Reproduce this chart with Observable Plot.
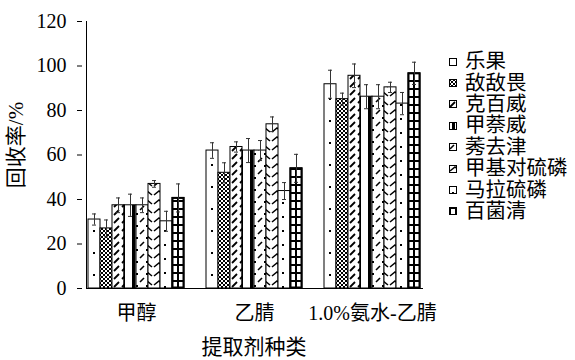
<!DOCTYPE html>
<html>
<head>
<meta charset="utf-8">
<script src="https://cdn.jsdelivr.net/npm/d3@7"></script>
<script src="https://cdn.jsdelivr.net/npm/@observablehq/plot@0.6"></script>
<style>
  html, body { margin: 0; padding: 0; background: #fff; }
  #wrap { position: relative; width: 575px; height: 360px; font-family: 'Liberation Serif', 'Noto Sans CJK SC', serif; color: #000; }
  #ytitle { position: absolute; left: 16px; top: 145px; transform: translate(-50%, -50%) rotate(-90deg); font-size: 21px; white-space: nowrap; line-height: 1; }
  #xtitle { position: absolute; left: 254px; top: 347px; transform: translate(-50%, -50%); font-size: 21px; white-space: nowrap; line-height: 1; }
  #legend { position: absolute; left: 449px; top: 51px; font-size: 20.5px; }
  #legend .item { display: flex; align-items: center; height: 21.4px; line-height: 21px; white-space: nowrap; overflow: visible; }
  #legend .item span { display: block; line-height: 21px; height: 21px; }
  #legend svg { margin-right: 8px; flex: none; }
</style>
</head>
<body>
<svg width="0" height="0" style="position:absolute">
  <defs>
    <pattern id="pat0" patternUnits="userSpaceOnUse" width="10" height="22">
      <rect width="10" height="22" fill="#fff"/><rect x="4" y="10" width="2" height="2" fill="#000"/>
    </pattern>
    <pattern id="pat1" patternUnits="userSpaceOnUse" width="4" height="4">
      <rect width="4" height="4" fill="#fff"/><rect x="0" y="0" width="2" height="2" fill="#000"/><rect x="2" y="2" width="2" height="2" fill="#000"/>
    </pattern>
    <pattern id="pat2" patternUnits="userSpaceOnUse" width="8" height="8">
      <rect width="8" height="8" fill="#fff"/><path d="M1,7 L6,2" stroke="#000" stroke-width="1.8"/>
    </pattern>
    <pattern id="pat3" patternUnits="userSpaceOnUse" width="10" height="10">
      <rect width="10" height="10" fill="#fff"/><rect x="3" y="0" width="3" height="10" fill="#000"/>
    </pattern>
    <pattern id="pat4" patternUnits="userSpaceOnUse" width="10" height="12">
      <rect width="10" height="12" fill="#fff"/><path d="M1,6 L5,2" stroke="#000" stroke-width="1.6"/><rect x="7" y="9" width="2" height="2" fill="#000"/>
    </pattern>
    <pattern id="pat5" patternUnits="userSpaceOnUse" width="12" height="9">
      <rect width="12" height="9" fill="#fff"/><path d="M1,6 L6,2 L11,6" stroke="#000" stroke-width="1.6" fill="none"/>
    </pattern>
    <pattern id="pat6" patternUnits="userSpaceOnUse" width="8" height="14">
      <rect width="8" height="14" fill="#fff"/><rect x="3" y="6" width="2" height="2" fill="#000"/>
    </pattern>
    <pattern id="pat7" patternUnits="userSpaceOnUse" width="6" height="8">
      <rect width="6" height="8" fill="#fff"/><rect x="0" y="0" width="2" height="8" fill="#000"/><rect x="0" y="0" width="6" height="2" fill="#000"/>
    </pattern>
  </defs>
</svg>
<div id="wrap">
  <div id="chart"></div>
  <div id="ytitle">回收率/%</div>
  <div id="xtitle">提取剂种类</div>
  <div id="legend"></div>
</div>
<script>
// ---- data ----
const groups = ["甲醇", "乙腈", "1.0%氨水-乙腈"];
const pesticides = ["乐果", "敌敌畏", "克百威", "甲萘威", "莠去津", "甲基对硫磷", "马拉硫磷", "百菌清"];
const methanol       = [31.0, 27.0, 37.4, 37.4, 37.4, 47.0, 30.2, 40.7];
const methanolErr    = [2.5, 3.8, 3.3, 5.0, 3.3, 1.5, 4.5, 6.3];
const acetonitrile    = [62.0, 52.0, 63.6, 62.0, 62.0, 73.8, 43.8, 54.0];
const acetonitrileErr = [3.5, 4.5, 2.3, 5.4, 4.5, 3.3, 3.8, 6.3];
const ammonia    = [91.8, 85.1, 95.6, 86.2, 86.2, 90.4, 83.1, 96.7];
const ammoniaErr = [6.3, 2.7, 5.3, 5.4, 5.4, 2.3, 5.0, 5.0];
const yTicks = [0, 20, 40, 60, 80, 100, 120];
const patterns = ["url(#pat0)", "url(#pat1)", "url(#pat2)", "url(#pat3)", "url(#pat4)", "url(#pat5)", "url(#pat6)", "url(#pat7)"];

const values = [methanol, acetonitrile, ammonia];
const errs = [methanolErr, acetonitrileErr, ammoniaErr];
const data = groups.flatMap((g, gi) => pesticides.map((p, pi) => ({
  group: g, pest: p, value: values[gi][pi], err: errs[gi][pi]
})));

const lo = d => d.value - d.err;
const hi = d => d.value + d.err;
const errColor = "#333";

const chart = Plot.plot({
  width: 575,
  height: 360,
  marginLeft: 77,
  marginRight: 144,
  marginTop: 21,
  marginBottom: 72,
  style: {fontFamily: "'Liberation Serif', 'Noto Sans CJK SC', serif", fontSize: "20px", color: "#000", background: "transparent"},
  fx: {domain: groups, paddingInner: 0.153, paddingOuter: 0.076, label: null},
  x: {domain: pesticides, padding: 0, axis: null},
  y: {domain: [0, 120], label: null},
  color: {domain: pesticides, range: patterns},
  marks: [
    Plot.barY(data, {fx: "group", x: "pest", y: "value", fill: "pest", stroke: "#000", strokeWidth: 1}),
    Plot.barY(data.filter(d => d.pest === "百菌清"), {fx: "group", x: "pest", y: "value", fill: "none", stroke: "#000", strokeWidth: 2, inset: 0.5}),
    Plot.ruleX(data, {fx: "group", x: "pest", y1: lo, y2: hi, stroke: errColor, strokeWidth: 1}),
    Plot.tickY(data, {fx: "group", x: "pest", y: hi, stroke: errColor, insetLeft: 4, insetRight: 4}),
    Plot.tickY(data, {fx: "group", x: "pest", y: lo, stroke: errColor, insetLeft: 4, insetRight: 4}),
    Plot.axisFx({anchor: "bottom", tickSize: 0, tickPadding: 17, label: null}),
    Plot.axisY({ticks: yTicks, tickSize: -5, tickPadding: 16, label: null, dx: -9}),
    Plot.frame({anchor: "bottom", facet: "super", stroke: "#000"}),
    Plot.frame({anchor: "left", facet: "super", stroke: "#000"})
  ]
});
document.getElementById("chart").appendChild(chart);

// legend
const legend = document.getElementById("legend");
pesticides.forEach((p, i) => {
  const item = document.createElement("div");
  item.className = "item";
  item.innerHTML = `<svg width="8" height="8"><rect x="0.5" y="0.5" width="7" height="7" fill="${patterns[i]}" stroke="#000"/></svg><span>${p}</span>`;
  legend.appendChild(item);
});
</script>
</body>
</html>
